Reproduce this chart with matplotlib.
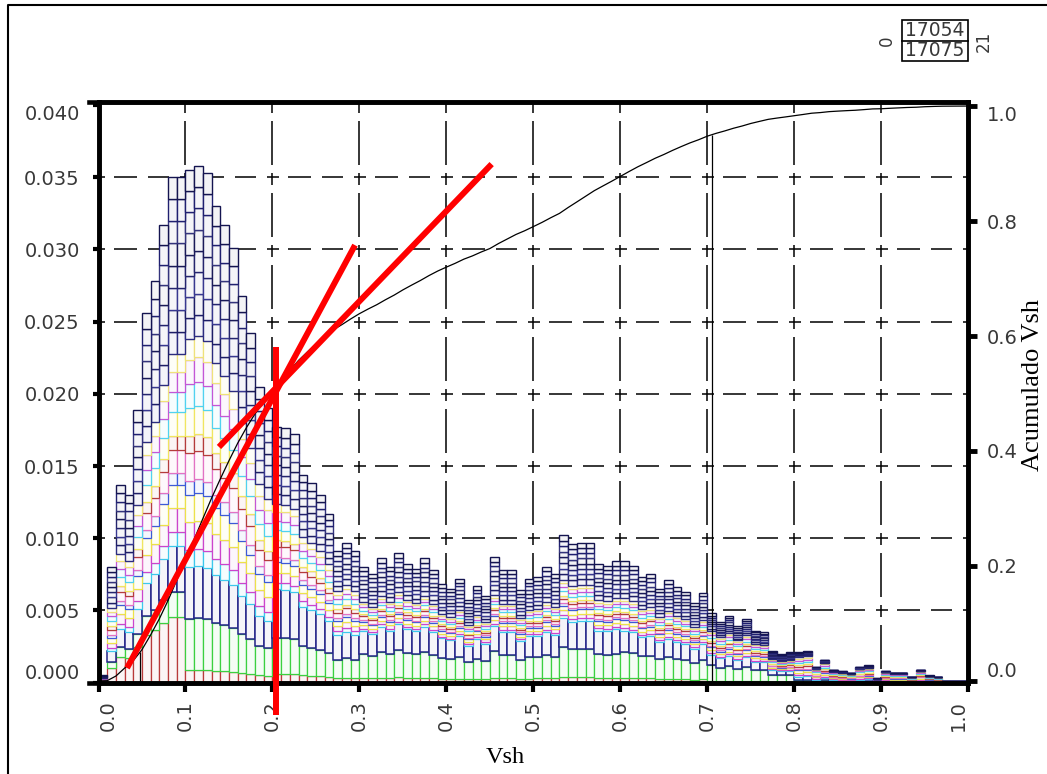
# plot.py
# Histograma apilado de Vsh por pozo + curva acumulada (eje derecho)

import numpy as np
import matplotlib
matplotlib.use("Agg")
from matplotlib import pyplot as plt
from matplotlib.lines import Line2D
from matplotlib.patches import Rectangle
from matplotlib.colors import to_rgb

# frecuencia por clase de Vsh (ancho 0.01, de 0.00 a 1.00)
freq = [
    0.0005, 0.0080, 0.0137, 0.0130, 0.0189, 0.0256, 0.0278, 0.0317, 0.0350, 0.0350,
    0.0355, 0.0358, 0.0353, 0.0330, 0.0317, 0.0301, 0.0268, 0.0242, 0.0205, 0.0190,
    0.0177, 0.0176, 0.0172, 0.0144, 0.0138, 0.0130, 0.0117, 0.0091, 0.0097, 0.0091,
    0.0080, 0.0075, 0.0086, 0.0080, 0.0090, 0.0082, 0.0079, 0.0086, 0.0078, 0.0068,
    0.0065, 0.0072, 0.0057, 0.0067, 0.0060, 0.0087, 0.0078, 0.0078, 0.0064, 0.0072,
    0.0073, 0.0080, 0.0075, 0.0102, 0.0096, 0.0097, 0.0097, 0.0082, 0.0081, 0.0084,
    0.0084, 0.0081, 0.0073, 0.0075, 0.0065, 0.0071, 0.0066, 0.0063, 0.0055, 0.0062,
    0.0048, 0.0042, 0.0046, 0.0039, 0.0044, 0.0036, 0.0035, 0.0022, 0.0020, 0.0021,
    0.0021, 0.0022, 0.0011, 0.0016, 0.0009, 0.0008, 0.0007, 0.0011, 0.0012, 0.0003,
    0.0008, 0.0007, 0.0007, 0.0004, 0.0009, 0.0005, 0.0004, 0.0001, 0.0001, 0.0001,
]

# parte de cada clase por grupo de pozos, por decil de Vsh
red_share = [0.13, 0.025, 0.035, 0.04, 0.04, 0.04, 0.04, 0.03, 0.02, 0.02]
green_share = [0.05, 0.10, 0.14, 0.21, 0.21, 0.20, 0.21, 0.22, 0.08, 0.05]
blue_share = [0.09, 0.10, 0.19, 0.20, 0.20, 0.20, 0.18, 0.15, 0.10, 0.10]
top_share = [0.35, 0.33, 0.30, 0.30, 0.30, 0.30, 0.30, 0.25, 0.15, 0.10]
base_colors = ["#b83a3a", "#3cd040", "#24248a"]

# pozos intermedios (colores claros) y su peso relativo
mid_colors = ["#3cc8ec", "#cc44cc", "#ece24a", "#3c5ad8", "#e272c4",
              "#b43c3c", "#f0e660", "#50d2f0", "#c456d6", "#efe27a"]
mid_weights = [0.5, 0.8, 0.8, 0.4, 0.8, 0.5, 0.8, 0.7, 0.7, 0.6]

# pozos de arriba (azul oscuro), partes iguales
top_colors = ["#2c2c80", "#1e1e66", "#383890", "#24246e",
              "#1a1a58", "#34347c", "#202070", "#141450"]

# trazos rojos dibujados a mano (x en Vsh, y en acumulado)
red_x = [(0.204, 0.204), (0.0328, 0.2949), (0.1385, 0.452)]
red_y = [(-0.059, 0.581), (0.0226, 0.758), (0.407, 0.899)]

# lineas de percentil (P05, P95)
pct_levels = [0.05, 0.95]

legend_top = "17054"
legend_bottom = "17075"

W, H = 1047, 774
LABEL = "#383838"


def fx(px):
    return px / W


def fy(py):
    return 1 - py / H


def tint(color, amount=0.05):
    r, g, b = to_rgb(color)
    return (1 - amount * (1 - r), 1 - amount * (1 - g), 1 - amount * (1 - b))


def main():
    plt.rcParams["font.family"] = ["DejaVu Sans"]
    plt.rcParams["lines.scale_dashes"] = False

    fig = plt.figure(figsize=(W / 100, H / 100), dpi=100)
    ax = fig.add_axes([fx(98.5), fy(682.7), fx(869.8), 580.7 / H])

    f = np.array(freq)
    edges = np.linspace(0, 1, len(f) + 1)
    dec = np.minimum((edges[:-1] * 10 + 1e-9).astype(int), 9)

    # alturas de cada capa
    rs = np.array(red_share)[dec]
    gs = np.array(green_share)[dec]
    bs = np.array(blue_share)[dec]
    ts = np.array(top_share)[dec]
    ms = 1 - rs - gs - bs - ts

    layers = [(f * rs, base_colors[0], 0.9), (f * gs, base_colors[1], 0.9),
              (f * bs, base_colors[2], 1.1)]
    wsum = sum(mid_weights)
    for c, w in zip(mid_colors, mid_weights):
        layers.append((f * ms * w / wsum, c, 0.9))
    for c in top_colors:
        layers.append((f * ts / len(top_colors), c, 1.0))

    bottom = np.zeros_like(f)
    for h, c, lw in layers:
        ax.bar(edges[:-1], h, width=0.01, align="edge", bottom=bottom,
               facecolor=tint(c), edgecolor=c, linewidth=lw, zorder=2)
        bottom = bottom + h

    ax.set_xlim(0, 1)
    ax.set_ylim(0, 0.0402)

    # rejilla a trazos con cruces en las intersecciones
    pt = 0.72
    h_pat = tuple(v * pt for v in (12, 9, 23, 11, 21, 11))
    v_pat = tuple(v * pt for v in (12, 8, 44, 8))
    for y in np.arange(0.005, 0.0399, 0.005):
        ax.axhline(y, color="black", lw=1.1, linestyle=(6 * pt, h_pat), zorder=1)
    for x in np.arange(0.1, 0.95, 0.1):
        ax.axvline(x, color="black", lw=1.1, linestyle=(6 * pt, v_pat), zorder=1)

    yt = np.arange(0, 0.0401, 0.005)
    ax.set_yticks(yt)
    ylabs = ax.set_yticklabels([f"{v:.3f}" for v in yt])
    ylabs[0].set_va("bottom")
    ylabs[-1].set_va("top")

    xt = np.arange(0, 1.01, 0.1)
    ax.set_xticks(xt)
    xlabs = ax.set_xticklabels([f"{v:.1f}" for v in xt], rotation=90)
    xlabs[0].set_ha("left")
    xlabs[-1].set_ha("right")

    ax.tick_params(axis="y", direction="out", length=4.5, width=3, pad=9,
                   labelsize=14, labelcolor=LABEL)
    ax.tick_params(axis="x", direction="out", length=6.5, width=3, pad=6,
                   labelsize=14, labelcolor=LABEL)
    for s in ax.spines.values():
        s.set_linewidth(3.3)

    # curva acumulada
    ax2 = ax.twinx()
    cum = np.concatenate([[0], np.cumsum(f)]) / f.sum()
    ax2.plot(edges, cum, color="black", lw=0.9, zorder=3)
    qx = np.interp(pct_levels, cum, edges)
    ax2.vlines(qx, -0.003, pct_levels, color="black", lw=0.9, zorder=3)

    for xs, ys in zip(red_x, red_y):
        ax2.plot(xs, ys, color="#ff0000", lw=4.3, solid_capstyle="butt",
                 zorder=5, clip_on=False)

    ax2.set_ylim(-0.003, 1.007)
    rt = np.arange(0, 1.01, 0.2)
    ax2.set_yticks(rt)
    rlabs = ax2.set_yticklabels([f"{v:.1f}" for v in rt])
    rlabs[0].set_va("bottom")
    rlabs[-1].set_va("top")
    ax2.tick_params(axis="y", direction="out", length=6.5, width=3.5, pad=7,
                    labelsize=14, labelcolor=LABEL)
    for s in ax2.spines.values():
        s.set_linewidth(3.3)

    # etiquetas de ejes
    fig.text(fx(505), fy(763), "Vsh", family="Liberation Serif", size=17.5,
             ha="center", va="baseline")
    fig.text(fx(1039), fy(385), "Acumulado Vsh", family="Liberation Serif",
             size=19, rotation=90, rotation_mode="anchor",
             ha="center", va="baseline")

    # cuadro de pozos arriba a la derecha
    fig.add_artist(Rectangle((fx(902), fy(61)), fx(66), 41 / H, fill=False,
                             edgecolor="black", lw=1.2, transform=fig.transFigure))
    fig.add_artist(Line2D([fx(902), fx(968)], [fy(41), fy(41)], color="black",
                          lw=1.2, transform=fig.transFigure))
    fig.text(fx(935), fy(31), legend_top, size=13.5, color=LABEL,
             ha="center", va="center")
    fig.text(fx(935), fy(51), legend_bottom, size=13.5, color=LABEL,
             ha="center", va="center")
    fig.text(fx(887), fy(41), "0", size=12, color=LABEL, rotation=90,
             ha="center", va="center")
    fig.text(fx(984), fy(41), "21", size=12, color=LABEL, rotation=90,
             ha="center", va="center")

    # marco de la figura y prolongacion de los ejes
    fig.add_artist(Line2D([fx(8), fx(8), fx(1060)], [fy(780), fy(5), fy(5)],
                          color="black", lw=1.5, transform=fig.transFigure))
    for py in (102, 682.7):
        fig.add_artist(Line2D([fx(89), fx(99)], [fy(py), fy(py)], color="black",
                              lw=3.3, transform=fig.transFigure))

    fig.savefig("out.png", dpi=100, facecolor="white")


if __name__ == "__main__":
    main()
